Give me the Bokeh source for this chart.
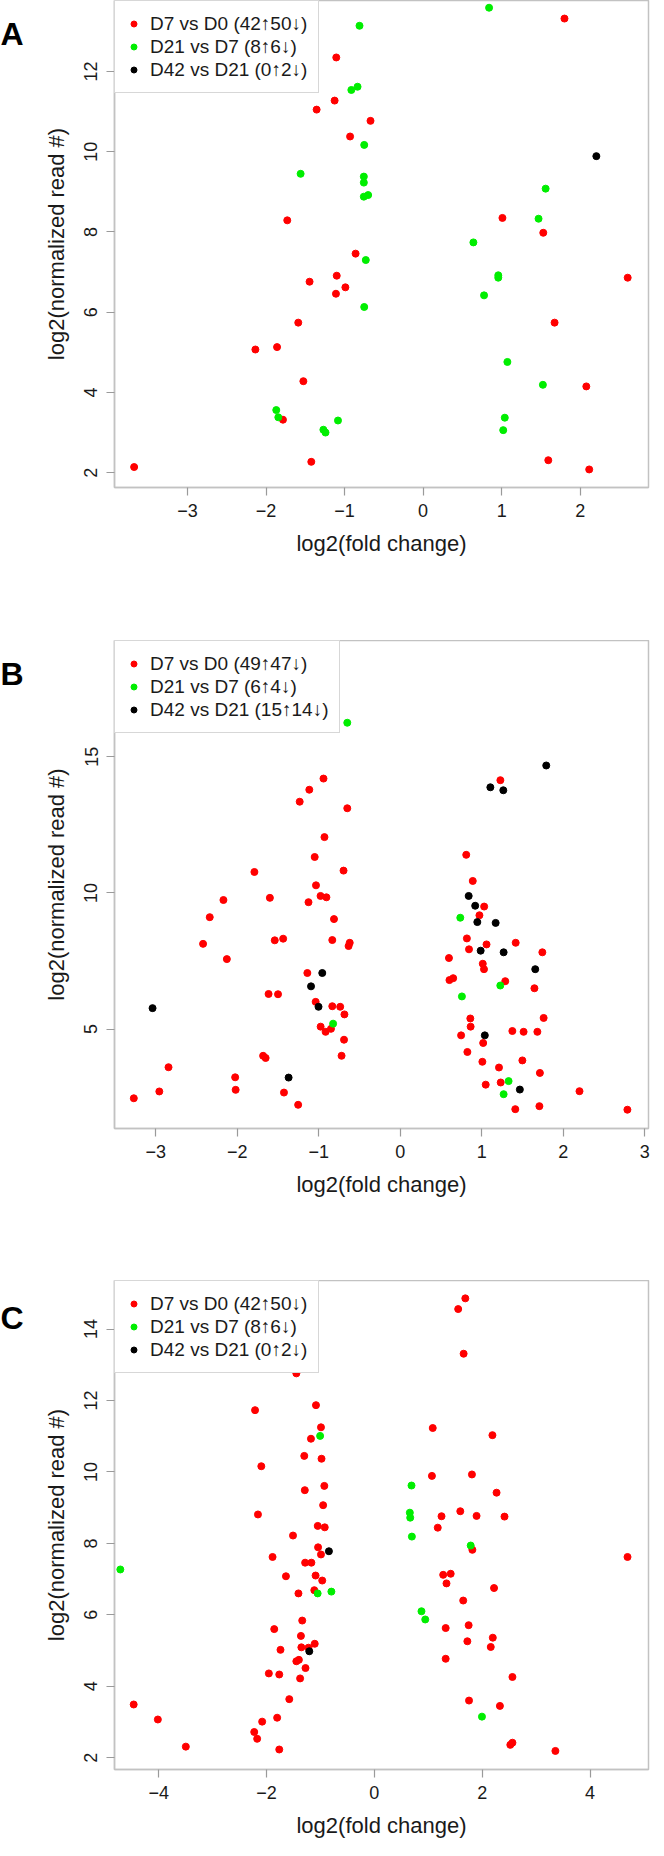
from bokeh.plotting import figure
from bokeh.models import Range1d, FixedTicker, Legend, LegendItem
from bokeh.layouts import column, row
from bokeh.core.properties import value
from bokeh.embed import file_html
from bokeh.resources import INLINE

# ---------------- Panel A ----------------
a_red_x = [1.80, -1.106, -1.127, -1.356, -0.67, -0.93, -1.73, 1.01, 1.53, -0.86, -1.10, -1.446, -0.99, -1.11, 2.605,
           -1.59, 1.674, -2.136, -1.86, -1.525, 2.078, -1.785, -1.424, -3.68, 1.594, 2.115]
a_red_y = [13.32, 12.35, 11.275, 11.05, 10.77, 10.38, 8.29, 8.35, 7.98, 7.46, 6.91, 6.76, 6.62, 6.46, 6.86,
           5.74, 5.74, 5.07, 5.13, 4.28, 4.15, 3.32, 2.27, 2.14, 2.31, 2.08]
a_green_x = [0.84, -0.81, -0.835, -0.914, -0.75, -1.56, -0.755, -0.755, -0.755, -0.70, 1.56, 1.47, 0.64, -0.73,
             0.957, 0.957, 0.776, -0.75, 1.073, 1.525, -1.87, -1.844, -1.084, -1.27, -1.243, 1.04, 1.02]
a_green_y = [13.59, 13.14, 11.62, 11.54, 10.17, 9.45, 9.38, 9.23, 8.88, 8.92, 9.08, 8.33, 7.74, 7.30,
             6.92, 6.86, 6.42, 6.13, 4.76, 4.19, 3.56, 3.38, 3.30, 3.07, 3.0, 3.37, 3.06]
a_black_x = [2.206]
a_black_y = [9.89]
a_labels = ["D7 vs D0 (42\u219150\u2193)", "D21 vs D7 (8\u21916\u2193)", "D42 vs D21 (0\u21912\u2193)"]
a_xticks = [-3, -2, -1, 0, 1, 2]
a_yticks = [2, 4, 6, 8, 10, 12]

# ---------------- Panel B ----------------
b_red_x = [-0.942, 1.229, -1.116, -1.234, -0.65, -0.93, -1.05, 0.81, -1.79, -0.696, 0.89, -1.034, -2.17, -1.60,
           -1.126, -0.978, -0.906, 1.03,
           0.972, -2.338, -0.813, -2.42, -1.54, -1.437, -0.834, -0.62, -0.634, 0.818, 0.844, 1.059, 1.417, 1.744,
           -2.128, 0.598, 1.013, 1.028, -1.14, 0.65, 0.604, 1.289, 1.647, -1.616, -1.50, -1.038, -0.834, -0.737,
           -0.685, 0.86, 1.76, -0.977, -0.916, -0.85, 0.864, 1.376, 1.514, 1.683, 0.747, -0.69, 1.018, 0.824,
           -1.683, -1.652, -0.72, 1.008, 1.499, -2.844, 1.212, 1.714, -2.026, -2.02, -2.957, 1.049, 1.233, -1.427,
           2.2, -3.27, -1.253, 1.412, 1.708, 2.788]
b_red_y = [14.20, 14.14, 13.79, 13.35, 13.11, 12.05, 11.32, 11.40, 10.77, 10.82, 10.44, 10.28, 9.74, 9.82,
           9.66, 9.89, 9.84, 9.50,
           9.18, 9.11, 9.04, 8.13, 8.26, 8.32, 8.27, 8.17, 8.05, 8.33, 7.93, 8.11, 8.17, 7.82,
           7.57, 7.61, 7.40, 7.20, 7.06, 6.87, 6.80, 6.76, 6.50, 6.29, 6.28, 6.0, 5.84, 5.82,
           5.54, 5.39, 5.41, 5.09, 4.90, 5.01, 5.09, 4.93, 4.90, 4.90, 4.77, 4.61, 4.49, 4.16,
           4.02, 3.94, 4.02, 3.80, 3.85, 3.60, 3.59, 3.39, 3.23, 2.77, 2.71, 2.96, 3.04, 2.67,
           2.72, 2.46, 2.22, 2.06, 2.17, 2.04]
b_green_x = [-0.65, 0.737, 1.228, 0.757, -0.824, 1.33, 1.269]
b_green_y = [16.25, 9.09, 6.60, 6.20, 5.20, 3.09, 2.61]
b_black_x = [1.792, 1.106, 1.265, 0.84, 0.92, 0.946, 1.171, 0.987, 1.269, 1.657, -0.957, -1.095, -1.003, -3.04,
             1.038, -1.37, 1.468]
b_black_y = [14.68, 13.88, 13.77, 9.89, 9.53, 8.93, 8.90, 7.88, 7.82, 7.20, 7.06, 6.57, 5.82, 5.77,
             4.77, 3.22, 2.78]
b_labels = ["D7 vs D0 (49\u219147\u2193)", "D21 vs D7 (6\u21914\u2193)", "D42 vs D21 (15\u219114\u2193)"]
b_xticks = [-3, -2, -1, 0, 1, 2, 3]
b_yticks = [5, 10, 15]

# ---------------- Panel C ----------------
c_red_x = [1.687, 1.555, 1.656, -1.447, -2.213, -1.083, -0.99, 1.083, 2.19, -1.176, -1.30, -0.98, -2.097, 1.068,
           1.81, -0.928, -1.29, 2.267, -0.95, -2.159, 1.246, 1.594, 1.896, 2.414, -1.05, -0.92, 1.176,
           -1.509, -1.044, -1.888, -0.99, 1.818, 4.696, -1.284, -1.168, -1.64, -1.09, 1.277, 1.416, -0.967, 1.338,
           2.22, -1.114, -1.408, 1.648, -1.338, -1.857, 1.323, 1.749, -1.362, 2.197, -1.106, -1.354, -1.222,
           -1.741, 1.725, 2.159, -1.447, -1.40, 1.323, -1.277, -1.957, -1.764, -1.377, 2.561, -1.578, -4.464,
           1.756, 2.329, -4.016, -1.803, -2.081, -2.228, -2.174, -3.497, -1.764, 2.522, 2.561, 3.358]
c_red_y = [14.86, 14.56, 13.31, 12.76, 11.73, 11.87, 11.25, 11.23, 11.03, 10.93, 10.45, 10.37, 10.16, 9.89,
           9.93, 9.61, 9.49, 9.42, 9.07, 8.81, 8.76, 8.90, 8.77, 8.75, 8.49, 8.45, 8.44,
           8.22, 7.89, 7.62, 7.69, 7.82, 7.62, 7.46, 7.46, 7.08, 7.10, 7.12, 7.15, 6.96, 6.88,
           6.75, 6.69, 6.60, 6.40, 5.84, 5.60, 5.63, 5.71, 5.41, 5.36, 5.19, 5.09, 5.08,
           5.02, 5.26, 5.10, 4.70, 4.74, 4.77, 4.51, 4.36, 4.33, 4.22, 4.26, 3.64, 3.49,
           3.60, 3.45, 3.07, 3.12, 3.01, 2.72, 2.53, 2.31, 2.23, 2.36, 2.42, 2.19]
c_green_x = [-1.006, 0.689, 0.658, 0.665, -4.712, 0.696, 1.787, -1.052, -0.797, 0.874, 0.944, 1.996]
c_green_y = [11.01, 9.62, 8.86, 8.72, 7.27, 8.19, 7.94, 6.60, 6.65, 6.10, 5.87, 3.15]
c_black_x = [-0.843, -1.207]
c_black_y = [7.78, 4.98]
c_labels = ["D7 vs D0 (42\u219150\u2193)", "D21 vs D7 (8\u21916\u2193)", "D42 vs D21 (0\u21912\u2193)"]
c_xticks = [-4, -2, 0, 2, 4]
c_yticks = [2, 4, 6, 8, 10, 12, 14]

panel_letters = ["A", "B", "C"]

FONT = "Liberation Sans"
BOX = "#c2c2c2"
LETTER_W = 40


def letter_fig(letter, height):
    f = figure(width=LETTER_W, height=height, output_backend="svg", toolbar_location=None,
               x_range=Range1d(0, LETTER_W), y_range=Range1d(height, 0),
               min_border=0, x_axis_type=None, y_axis_type=None)
    f.grid.visible = False
    f.outline_line_color = None
    f.text(x=[0], y=[43.5], text=[letter], text_font=value(FONT), text_font_size="32px",
           text_font_style="bold", text_color="black", text_baseline="alphabetic", text_align="left")
    return f


def make_panel(series, labels, xr, yr, xticks, yticks, height, border_bottom):
    p = figure(width=650 - LETTER_W, height=height, output_backend="svg", toolbar_location=None,
               x_range=Range1d(*xr), y_range=Range1d(*yr),
               min_border_left=106 - LETTER_W, min_border_right=2, min_border_top=0,
               min_border_bottom=border_bottom)
    p.grid.visible = False
    p.outline_line_color = BOX
    p.outline_line_width = 1.5
    p.background_fill_color = "white"
    p.border_fill_color = "white"

    renderers = []
    for (xs, ys), col in zip(series, ["#ff0000", "#00ee00", "#000000"]):
        r = p.scatter(xs, ys, size=7, color=col, line_color=col)
        renderers.append(r)

    for ax, ticks in ((p.xaxis[0], xticks), (p.yaxis[0], yticks)):
        ax.ticker = FixedTicker(ticks=ticks)
        ax.minor_tick_line_color = None
        ax.major_tick_in = 0
        ax.major_tick_out = 8
        ax.major_tick_line_color = "#9a9a9a"
        ax.major_tick_line_width = 1.2
        ax.axis_line_color = BOX
        ax.axis_line_width = 1.5
        ax.major_label_text_font = FONT
        ax.major_label_text_font_size = "18px"
        ax.major_label_text_color = "#1a1a1a"
        ax.axis_label_text_font = FONT
        ax.axis_label_text_font_size = "22px"
        ax.axis_label_text_font_style = "normal"
        ax.axis_label_text_color = "#1a1a1a"

    p.xaxis.axis_label = "log2(fold change)"
    p.xaxis.major_label_standoff = 8
    p.xaxis.axis_label_standoff = 11
    p.yaxis.axis_label = "log2(normalized read #)"
    p.yaxis.major_label_orientation = "vertical"
    p.yaxis.major_label_standoff = 9
    p.yaxis.axis_label_standoff = 13

    legend = Legend(items=[LegendItem(label=lab, renderers=[r]) for lab, r in zip(labels, renderers)],
                    location="top_left", margin=0, padding=11, spacing=0,
                    glyph_width=15, glyph_height=23, label_height=23, label_standoff=9,
                    label_text_font=FONT, label_text_font_size="19px", label_text_color="#1a1a1a",
                    border_line_color="#b0b0b0", border_line_width=1.5,
                    background_fill_color="white", background_fill_alpha=1.0)
    p.add_layout(legend)
    return p


pa = make_panel([(a_red_x, a_red_y), (a_green_x, a_green_y), (a_black_x, a_black_y)], a_labels,
                (-3.93, 2.87), (1.63, 13.77), a_xticks, a_yticks, 640, 153)
pb = make_panel([(b_red_x, b_red_y), (b_green_x, b_green_y), (b_black_x, b_black_y)], b_labels,
                (-3.507, 3.047), (1.35, 19.27), b_xticks, b_yticks, 640, 152)
pc = make_panel([(c_red_x, c_red_y), (c_green_x, c_green_y), (c_black_x, c_black_y)], c_labels,
                (-4.82, 5.085), (1.67, 15.36), c_xticks, c_yticks, 560, 71)

layout = column(
    row(letter_fig(panel_letters[0], 640), pa, spacing=0),
    row(letter_fig(panel_letters[1], 640), pb, spacing=0),
    row(letter_fig(panel_letters[2], 560), pc, spacing=0),
    spacing=0)
open("out.html", "w").write(file_html(layout, INLINE))
